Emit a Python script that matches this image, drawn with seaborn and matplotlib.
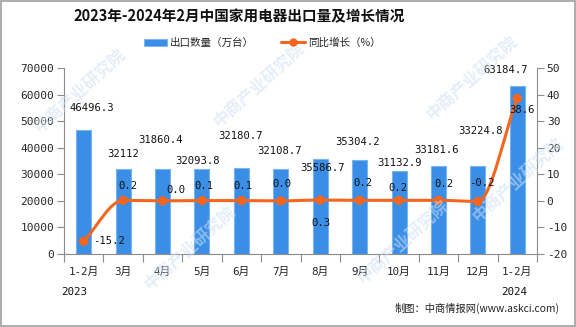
import numpy as np
import pandas as pd
import matplotlib
matplotlib.use("Agg")
import matplotlib.pyplot as plt
import seaborn as sns
from matplotlib.path import Path
from matplotlib.patches import PathPatch, Patch, Rectangle
from matplotlib.lines import Line2D

# ---- data ----
periods = ["2023-01/02", "2023-03", "2023-04", "2023-05", "2023-06", "2023-07",
           "2023-08", "2023-09", "2023-10", "2023-11", "2023-12", "2024-01/02"]
month_labels = ["1-2月", "3月", "4月", "5月", "6月", "7月",
                "8月", "9月", "10月", "11月", "12月", "1-2月"]
export_volume = [46496.3, 32112, 31860.4, 32093.8, 32180.7, 32108.7,
                 35586.7, 35304.2, 31132.9, 33181.6, 33224.8, 63184.7]
yoy_growth = [-15.2, 0.2, 0.0, 0.1, 0.1, 0.0, 0.3, 0.2, 0.2, 0.2, -0.2, 38.6]
volume_text = ["46496.3", "32112", "31860.4", "32093.8", "32180.7", "32108.7",
               "35586.7", "35304.2", "31132.9", "33181.6", "33224.8", "63184.7"]
growth_text = ["-15.2", "0.2", "0.0", "0.1", "0.1", "0.0",
               "0.3", "0.2", "0.2", "0.2", "-0.2", "38.6"]
year_labels = ["2023", "2024"]

# label placement (pixel offsets from each mark)
volume_offsets = [(8, 22), (0, 15), (-2, 29), (-4, 8), (-1, 32), (-1, 18),
                  (2, -9), (-2, 18), (1, 8), (-2, 16), (3, 35), (-12, 16)]
growth_offsets = [(25, 0), (5, 14), (13, 11), (2, 15), (2, 15), (1, 17),
                  (1, -23), (3, 17), (-1, 12), (5, 16), (4, 18), (5, -12)]

BAR_BLUE = "#3A8EE6"
LINE_ORANGE = "#F4661F"
AXIS_GRAY = "#8C8C8C"
CJK = ["Noto Sans CJK SC", "DejaVu Sans"]
MONO = ["DejaVu Sans Mono", "Noto Sans CJK SC"]

sns.set_theme(style="white")
plt.rcParams["font.family"] = CJK
plt.rcParams["axes.unicode_minus"] = False

df = pd.DataFrame({"period": periods, "volume": export_volume, "growth": yoy_growth})

fig = plt.figure(figsize=(5.76, 3.27), dpi=100)
ax = fig.add_axes([64 / 576, 1 - 254 / 327, (537 - 64) / 576, (254 - 68) / 327])

# watermark text
for (wx, wy) in [(0.14, 0.72), (0.45, 0.74), (0.82, 0.76),
                 (0.33, 0.24), (0.70, 0.26), (0.90, 0.45)]:
    fig.text(wx, wy, "中商产业研究院", rotation=42, fontsize=12, fontweight="bold",
             color="#CFE1F3", alpha=0.55, ha="center", va="center",
             family=CJK, zorder=0)

sns.barplot(data=df, x="period", y="volume", order=periods, color=BAR_BLUE,
            width=0.38, saturation=1, edgecolor="#78B4EF", linewidth=0.8, ax=ax,
            zorder=2)
ax.set_xlim(-0.5, len(periods) - 0.5)
ax.set_ylim(0, 70000)
ax.set_yticks(np.arange(0, 70001, 10000))
ax.set_xlabel("")
ax.set_ylabel("")

# category boundaries as tick marks, labels centered on bars
ax.set_xticks(np.arange(-0.5, len(periods), 1.0))
ax.set_xticklabels([])
ax.set_xticks(np.arange(len(periods)), minor=True)
ax.set_xticklabels(month_labels, minor=True, family=MONO, fontsize=7.8)
ax.tick_params(axis="x", which="major", direction="out", length=6, width=0.8,
               color=AXIS_GRAY, bottom=True)
ax.tick_params(axis="x", which="minor", length=0, pad=9, bottom=True)
ax.tick_params(axis="y", direction="out", length=5, width=0.8, color=AXIS_GRAY,
               labelsize=8, pad=2, left=True)
for lbl in ax.get_yticklabels():
    lbl.set_family(MONO)

for side in ["top", "right"]:
    ax.spines[side].set_visible(False)
for side in ["left", "bottom"]:
    ax.spines[side].set_color(AXIS_GRAY)
    ax.spines[side].set_linewidth(0.8)

for i, (v, txt, (dx, dy)) in enumerate(zip(export_volume, volume_text, volume_offsets)):
    ax.annotate(txt, xy=(i, v), xytext=(dx, dy), textcoords="offset pixels",
                ha="center", va="center", fontsize=7.6, family=MONO, color="#111111",
                zorder=5)

# growth rate on the secondary axis
ax2 = ax.twinx()
ax2.set_ylim(-20, 50)
ax2.set_yticks(np.arange(-20, 51, 10))
ax2.tick_params(axis="y", direction="out", length=5, width=0.8, color=AXIS_GRAY,
                labelsize=8, pad=2, right=True)
for lbl in ax2.get_yticklabels():
    lbl.set_family(MONO)
for side in ["top", "left", "bottom"]:
    ax2.spines[side].set_visible(False)
ax2.spines["right"].set_color(AXIS_GRAY)
ax2.spines["right"].set_linewidth(0.8)

# smooth monotone curve through the growth values
xs = np.arange(len(yoy_growth), dtype=float)
ys = np.asarray(yoy_growth, dtype=float)
d = np.diff(ys)
m = np.zeros_like(ys)
m[0], m[-1] = d[0], d[-1]
for k in range(1, len(ys) - 1):
    if d[k - 1] * d[k] > 0:
        m[k] = 2.0 / (1.0 / d[k - 1] + 1.0 / d[k])
verts = [(xs[0], ys[0])]
codes = [Path.MOVETO]
for k in range(len(ys) - 1):
    verts += [(xs[k] + 1 / 3, ys[k] + m[k] / 3),
              (xs[k + 1] - 1 / 3, ys[k + 1] - m[k + 1] / 3),
              (xs[k + 1], ys[k + 1])]
    codes += [Path.CURVE4] * 3
ax2.add_patch(PathPatch(Path(verts, codes), fill=False, edgecolor=LINE_ORANGE,
                        linewidth=2.2, capstyle="round", zorder=3))
sns.scatterplot(x=xs, y=ys, color=LINE_ORANGE, s=45, edgecolor="none", ax=ax2,
                zorder=4, legend=False)
ax2.set_xlim(-0.5, len(periods) - 0.5)
ax2.set_ylabel("")

for i, (g, txt, (dx, dy)) in enumerate(zip(yoy_growth, growth_text, growth_offsets)):
    ax2.annotate(txt, xy=(i, g), xytext=(dx, dy), textcoords="offset pixels",
                 ha="center", va="center", fontsize=7.6, family=MONO, color="#111111",
                 zorder=6)

# title, legend and notes
fig.text(0.415, 1 - 16 / 327, "2023年-2024年2月中国家用电器出口量及增长情况",
         ha="center", va="center", fontsize=10.5, fontweight="bold", family=CJK,
         color="#111111")
handles = [Patch(facecolor=BAR_BLUE, edgecolor="#78B4EF", linewidth=0.6),
           Line2D([0], [0], color=LINE_ORANGE, lw=2.2, marker="o", markersize=5)]
fig.legend(handles, ["出口数量（万台）", "同比增长（%）"], loc="center",
           bbox_to_anchor=(0.455, 1 - 43 / 327), ncol=2, frameon=False,
           prop={"family": CJK, "size": 7.6}, handlelength=2.2, handleheight=0.7,
           handletextpad=0.3, columnspacing=2.6)

fig.text(74 / 576, 1 - 292 / 327, year_labels[0], ha="center", va="center",
         fontsize=7.8, family=MONO, color="#111111")
fig.text(514 / 576, 1 - 292 / 327, year_labels[1], ha="center", va="center",
         fontsize=7.8, family=MONO, color="#111111")
fig.text(560 / 576, 1 - 308 / 327, "制图：中商情报网(www.askci.com)", ha="right",
         va="center", fontsize=7.4, family=CJK, color="#222222")

fig.patches.append(Rectangle((0.001, 0.002), 0.997, 0.995, transform=fig.transFigure,
                             fill=False, edgecolor="#A0A0A0", linewidth=1.2))

fig.savefig("out.png", dpi=100)
